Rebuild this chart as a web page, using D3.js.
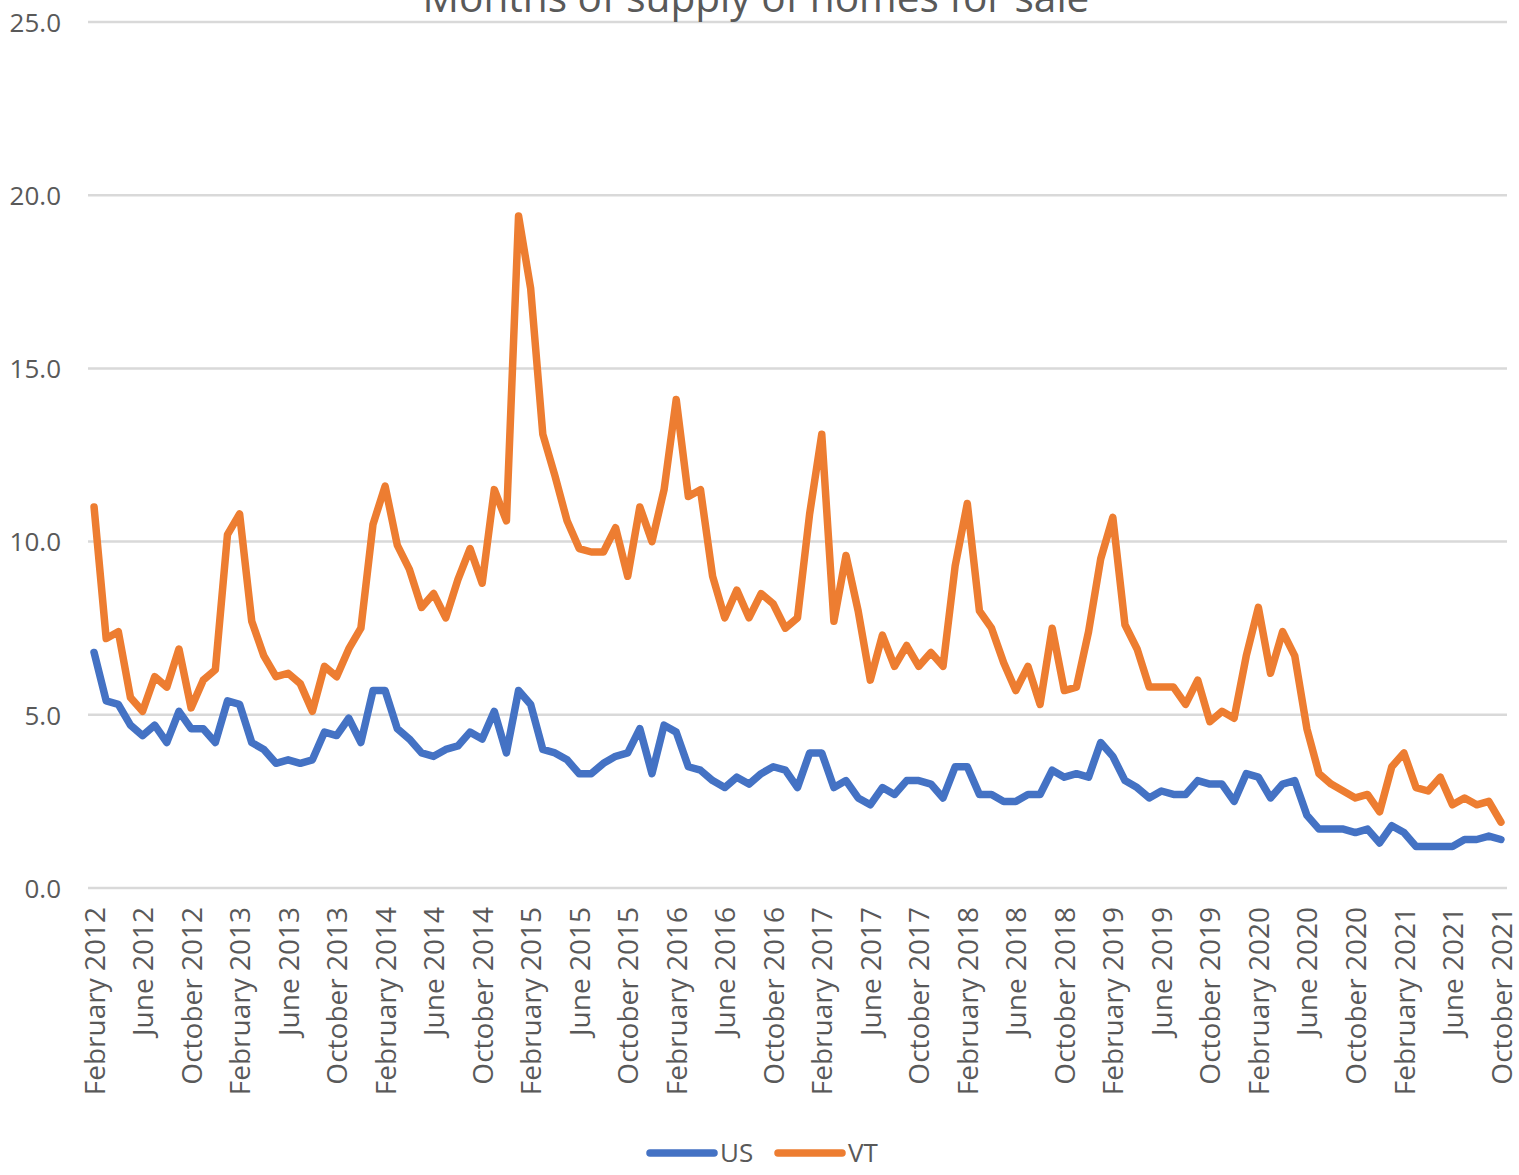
<!DOCTYPE html>
<html>
<head>
<meta charset="utf-8">
<script src="https://cdn.jsdelivr.net/npm/d3@7"></script>
<style>
  html, body { margin: 0; padding: 0; background: #ffffff; }
  svg { display: block; }
  text { font-family: "Open Sans", "Noto Sans", sans-serif; fill: #595959; }
</style>
</head>
<body>
<svg id="chart" width="1519" height="1175"></svg>
<script>
// Months of supply, February 2012 through October 2021
const monthNames = ["January", "February", "March", "April", "May", "June",
  "July", "August", "September", "October", "November", "December"];
const startYear = 2012;
const startMonth = 1; // February
const monthCount = 117;

const usValues = [
  6.8, 5.4, 5.3, 4.7, 4.4, 4.7, 4.2, 5.1, 4.6, 4.6, 4.2,
  5.4, 5.3, 4.2, 4.0, 3.6, 3.7, 3.6, 3.7, 4.5, 4.4, 4.9, 4.2,
  5.7, 5.7, 4.6, 4.3, 3.9, 3.8, 4.0, 4.1, 4.5, 4.3, 5.1, 3.9,
  5.7, 5.3, 4.0, 3.9, 3.7, 3.3, 3.3, 3.6, 3.8, 3.9, 4.6, 3.3,
  4.7, 4.5, 3.5, 3.4, 3.1, 2.9, 3.2, 3.0, 3.3, 3.5, 3.4, 2.9,
  3.9, 3.9, 2.9, 3.1, 2.6, 2.4, 2.9, 2.7, 3.1, 3.1, 3.0, 2.6,
  3.5, 3.5, 2.7, 2.7, 2.5, 2.5, 2.7, 2.7, 3.4, 3.2, 3.3, 3.2,
  4.2, 3.8, 3.1, 2.9, 2.6, 2.8, 2.7, 2.7, 3.1, 3.0, 3.0, 2.5,
  3.3, 3.2, 2.6, 3.0, 3.1, 2.1, 1.7, 1.7, 1.7, 1.6, 1.7, 1.3,
  1.8, 1.6, 1.2, 1.2, 1.2, 1.2, 1.4, 1.4, 1.5, 1.4
];

const vtValues = [
  11.0, 7.2, 7.4, 5.5, 5.1, 6.1, 5.8, 6.9, 5.2, 6.0, 6.3,
  10.2, 10.8, 7.7, 6.7, 6.1, 6.2, 5.9, 5.1, 6.4, 6.1, 6.9, 7.5,
  10.5, 11.6, 9.9, 9.2, 8.1, 8.5, 7.8, 8.9, 9.8, 8.8, 11.5, 10.6,
  19.4, 17.3, 13.1, 11.9, 10.6, 9.8, 9.7, 9.7, 10.4, 9.0, 11.0, 10.0,
  11.5, 14.1, 11.3, 11.5, 9.0, 7.8, 8.6, 7.8, 8.5, 8.2, 7.5, 7.8,
  10.8, 13.1, 7.7, 9.6, 8.0, 6.0, 7.3, 6.4, 7.0, 6.4, 6.8, 6.4,
  9.3, 11.1, 8.0, 7.5, 6.5, 5.7, 6.4, 5.3, 7.5, 5.7, 5.8, 7.4,
  9.5, 10.7, 7.6, 6.9, 5.8, 5.8, 5.8, 5.3, 6.0, 4.8, 5.1, 4.9,
  6.7, 8.1, 6.2, 7.4, 6.7, 4.6, 3.3, 3.0, 2.8, 2.6, 2.7, 2.2,
  3.5, 3.9, 2.9, 2.8, 3.2, 2.4, 2.6, 2.4, 2.5, 1.9
];

const yTicks = [0, 5, 10, 15, 20, 25];
const seriesNames = ["US", "VT"];
const seriesColors = ["#4472C4", "#ED7D31"];
const titleText = "Months of supply of homes for sale";

// Category labels ("February 2012", ...)
const categories = d3.range(monthCount).map(i => {
  const m = (startMonth + i) % 12;
  const y = startYear + Math.floor((startMonth + i) / 12);
  return monthNames[m] + " " + y;
});

const svg = d3.select("#chart");
const plot = { left: 88, right: 1507, top: 22, bottom: 888 };

const x = d3.scalePoint()
  .domain(categories)
  .range([plot.left, plot.right])
  .padding(0.5);

const y = d3.scaleLinear()
  .domain([0, 25])
  .range([plot.bottom, plot.top]);

// Horizontal gridlines
svg.append("g")
  .selectAll("line")
  .data(yTicks)
  .join("line")
  .attr("x1", plot.left)
  .attr("x2", plot.right)
  .attr("y1", d => y(d))
  .attr("y2", d => y(d))
  .attr("stroke", "#d9d9d9")
  .attr("stroke-width", 2.5);

// Y axis labels
const yAxis = d3.axisLeft(y)
  .tickValues(yTicks)
  .tickFormat(d3.format(".1f"))
  .tickSize(0)
  .tickPadding(0);
const yAxisG = svg.append("g")
  .attr("transform", "translate(61,0)")
  .call(yAxis);
yAxisG.select(".domain").remove();
yAxisG.selectAll("text")
  .attr("font-size", 26)
  .attr("fill", "#595959")
  .attr("font-family", "\"Open Sans\", sans-serif")
  .attr("dy", "0.36em");

// X axis labels, every fourth month, rotated
const xAxis = d3.axisBottom(x)
  .tickValues(categories.filter((d, i) => i % 4 === 0))
  .tickSize(0)
  .tickPadding(0);
const xAxisG = svg.append("g")
  .attr("transform", `translate(0,${plot.bottom})`)
  .call(xAxis);
xAxisG.select(".domain").remove();
xAxisG.selectAll("text")
  .attr("font-size", 28)
  .attr("fill", "#595959")
  .attr("font-family", "\"Open Sans\", sans-serif")
  .attr("text-anchor", "end")
  .attr("transform", "translate(0,19) rotate(-90)")
  .attr("x", 0)
  .attr("y", 0)
  .attr("dy", "0.36em");

// Series lines
const line = d3.line()
  .x((d, i) => x(categories[i]))
  .y(d => y(d));

[usValues, vtValues].forEach((vals, k) => {
  svg.append("path")
    .datum(vals)
    .attr("d", line)
    .attr("fill", "none")
    .attr("stroke", seriesColors[k])
    .attr("stroke-width", 7.5)
    .attr("stroke-linejoin", "round")
    .attr("stroke-linecap", "round");
});

// Title, running off the top edge
const title = svg.append("text")
  .attr("x", 756)
  .attr("y", 12)
  .attr("text-anchor", "middle")
  .attr("font-size", 40)
  .text(titleText);
const tw = title.node().getComputedTextLength();
title.attr("font-size", 40 * 667 / tw);

// Legend
const legendItems = [
  { name: seriesNames[0], color: seriesColors[0], x0: 650, x1: 714, tx: 720 },
  { name: seriesNames[1], color: seriesColors[1], x0: 778, x1: 842, tx: 848 }
];
const lg = svg.append("g");
legendItems.forEach(d => {
  lg.append("line")
    .attr("x1", d.x0).attr("x2", d.x1)
    .attr("y1", 1153).attr("y2", 1153)
    .attr("stroke", d.color)
    .attr("stroke-width", 7.5)
    .attr("stroke-linecap", "round");
  lg.append("text")
    .attr("x", d.tx)
    .attr("y", 1153)
    .attr("dy", "0.36em")
    .attr("font-size", 26)
    .text(d.name);
});
</script>
</body>
</html>
